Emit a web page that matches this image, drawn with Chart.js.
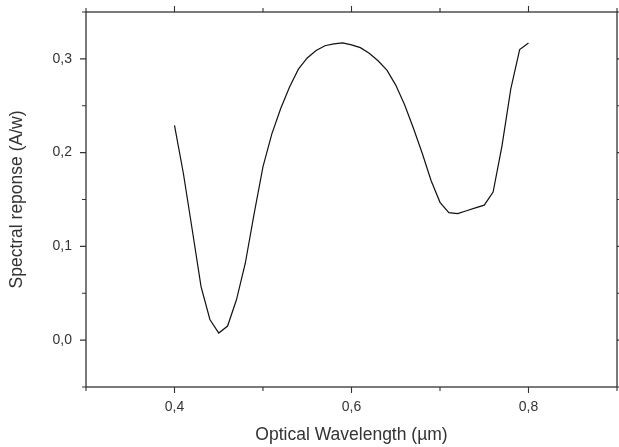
<!DOCTYPE html>
<html>
<head>
<meta charset="utf-8">
<script src="https://cdn.jsdelivr.net/npm/chart.js@4"></script>
<style>
  html, body { margin: 0; padding: 0; background: #fff; }
  #wrap { width: 619px; height: 447px; }
</style>
</head>
<body>
<div id="wrap"><canvas id="chart"></canvas></div>
<script>
// wavelength in µm, response in A/W
const wavelength = [0.40, 0.41, 0.42, 0.43, 0.44, 0.45, 0.46, 0.47, 0.48, 0.49,
  0.50, 0.51, 0.52, 0.53, 0.54, 0.55, 0.56, 0.57, 0.58, 0.59,
  0.60, 0.61, 0.62, 0.63, 0.64, 0.65, 0.66, 0.67, 0.68, 0.69,
  0.70, 0.71, 0.72, 0.73, 0.74, 0.75, 0.76, 0.77, 0.78, 0.79, 0.80]
const response = [0.229, 0.178, 0.118, 0.057, 0.022, 0.0075, 0.015, 0.043, 0.082, 0.135,
  0.185, 0.220, 0.247, 0.270, 0.289, 0.301, 0.309, 0.314, 0.316, 0.317,
  0.315, 0.312, 0.306, 0.298, 0.288, 0.272, 0.251, 0.226, 0.199, 0.170,
  0.147, 0.136, 0.135, 0.138, 0.141, 0.144, 0.158, 0.207, 0.268, 0.310, 0.317]

const xLabelValues = [0.4, 0.6, 0.8]
const yLabelValues = [0.0, 0.1, 0.2, 0.3]

const fontFamily = '"Liberation Sans", Arial, sans-serif'
const textColor = '#333'

const commaFmt = v => (Math.round(v * 10) / 10 + 0).toFixed(1).replace('.', ',').replace('-', '')
const isIn = (list, v) => list.some(t => Math.abs(t - v) < 1e-6)

// frame + outward ticks on all four sides
const framePlugin = {
  id: 'frame',
  afterDraw(chart) {
    const {ctx, chartArea: a, scales} = chart
    ctx.save()
    ctx.strokeStyle = '#333'
    ctx.lineWidth = 1.3
    ctx.strokeRect(a.left, a.top, a.right - a.left, a.bottom - a.top)
    ctx.lineWidth = 1.1
    scales.x.ticks.forEach(t => {
      const px = scales.x.getPixelForValue(t.value)
      const len = Math.round(t.value * 10) % 2 === 0 ? 6 : 4
      ctx.beginPath()
      ctx.moveTo(px, a.bottom); ctx.lineTo(px, a.bottom + len)
      ctx.moveTo(px, a.top); ctx.lineTo(px, a.top - len)
      ctx.stroke()
    })
    scales.y.ticks.forEach(t => {
      const py = scales.y.getPixelForValue(t.value)
      const len = Math.round(t.value * 100) % 10 === 0 ? 6 : 4
      ctx.beginPath()
      ctx.moveTo(a.left, py); ctx.lineTo(a.left - len, py)
      ctx.moveTo(a.right, py); ctx.lineTo(a.right + len, py)
      ctx.stroke()
    })
    ctx.restore()
  }
}

const ctx = document.getElementById('chart').getContext('2d')
new Chart(ctx, {
  type: 'line',
  data: {
    datasets: [{
      data: wavelength.map((w, i) => ({x: w, y: response[i]})),
      borderColor: '#111',
      borderWidth: 1.2,
      pointRadius: 0,
      tension: 0,
      fill: false
    }]
  },
  options: {
    responsive: true,
    maintainAspectRatio: false,
    animation: false,
    events: [],
    layout: {padding: {top: 12, right: 2, left: 0, bottom: 0}},
    plugins: {legend: {display: false}, tooltip: {enabled: false}},
    scales: {
      x: {
        type: 'linear',
        min: 0.3,
        max: 0.9,
        grid: {display: false},
        border: {display: false},
        afterFit: s => { s.height = 60; s.paddingLeft = 0; s.paddingRight = 0 },
        ticks: {
          stepSize: 0.1,
          autoSkip: false,
          maxRotation: 0,
          padding: 4,
          color: textColor,
          font: {family: fontFamily, size: 14},
          callback: v => isIn(xLabelValues, v) ? commaFmt(v) : ''
        },
        title: {
          display: true,
          text: 'Optical Wavelength (µm)',
          color: textColor,
          font: {family: fontFamily, size: 17.5, lineHeight: 1.2},
          padding: {top: 0, bottom: 1}
        }
      },
      y: {
        type: 'linear',
        min: -0.05,
        max: 0.35,
        grid: {display: false},
        border: {display: false},
        afterFit: s => { s.width = 86; s.paddingTop = 0; s.paddingBottom = 0 },
        ticks: {
          stepSize: 0.05,
          autoSkip: false,
          padding: 6,
          color: textColor,
          font: {family: fontFamily, size: 14},
          callback: v => isIn(yLabelValues, v) ? commaFmt(v) : ''
        },
        title: {
          display: true,
          text: 'Spectral reponse (A/w)',
          color: textColor,
          font: {family: fontFamily, size: 17.5, lineHeight: 1.2},
          padding: {top: 6.5, bottom: 0}
        }
      }
    }
  },
  plugins: [framePlugin]
})
</script>
</body>
</html>
